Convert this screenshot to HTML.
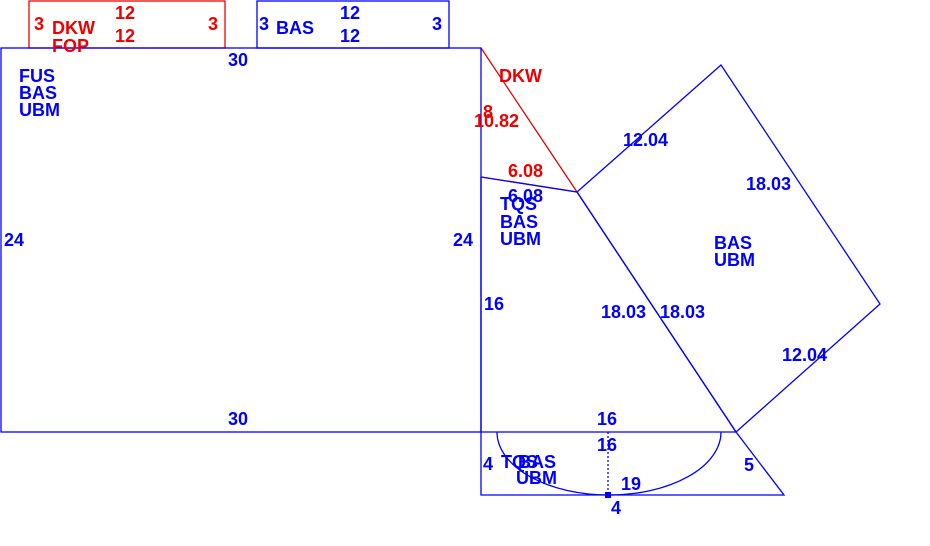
<!DOCTYPE html>
<html><head><style>body{margin:0;background:#fff}svg{display:block}text{font-family:"Liberation Sans",sans-serif;font-weight:bold;font-size:18px}</style></head><body>
<svg width="930" height="546" viewBox="0 0 930 546">
<g fill="none" stroke="#e00" stroke-width="1.3">
<rect x="29" y="1" width="196" height="47"/>
<polyline points="481,48 577,192 481,177"/>
</g>
<g fill="none" stroke="#00f" stroke-width="1.3">
<rect x="1" y="48" width="480" height="384"/>
<rect x="257" y="1" width="192" height="47"/>
<line x1="481" y1="177" x2="577" y2="192"/>
<line x1="481" y1="177" x2="481" y2="432"/>
<polygon points="577,192 721,65 880,304 736,432"/>
<line x1="577" y1="192" x2="736" y2="432"/>
<line x1="481" y1="432" x2="736" y2="432"/>
<polyline points="481,432 481,495 784,495 736,432"/>
<path d="M497,432 A112,63 0 0 0 721,432"/>
<line x1="608" y1="432" x2="608" y2="495" stroke-dasharray="2,2"/>
</g>
<rect x="605" y="492" width="6" height="6" fill="#00f"/>
<g fill="#e00">
<text x="34" y="30">3</text><text x="52" y="34">DKW</text><text x="52" y="52">FOP</text>
<text x="115" y="19">12</text><text x="115" y="42">12</text><text x="208" y="30">3</text>
<text x="499" y="82">DKW</text><text x="483" y="118">8</text><text x="474" y="127">10.82</text>
<text x="508" y="177">6.08</text>
</g>
<g fill="#00f">
<text x="259" y="30">3</text><text x="276" y="34">BAS</text><text x="340" y="19">12</text><text x="340" y="42">12</text><text x="432" y="30">3</text>
<text x="228" y="66">30</text>
<text x="19" y="82">FUS</text><text x="19" y="99">BAS</text><text x="19" y="116">UBM</text>
<text x="4" y="246">24</text><text x="453" y="246">24</text>
<text x="228" y="425">30</text>
<text x="508" y="202">6.08</text>
<text x="500" y="210">TQS</text><text x="500" y="228">BAS</text><text x="500" y="245">UBM</text>
<text x="484" y="310">16</text>
<text x="623" y="146">12.04</text><text x="746" y="190">18.03</text>
<text x="714" y="249">BAS</text><text x="714" y="266">UBM</text>
<text x="601" y="318">18.03</text><text x="660" y="318">18.03</text>
<text x="782" y="361">12.04</text>
<text x="597" y="425">16</text><text x="597" y="451">16</text>
<text x="483" y="470">4</text><text x="501" y="468">TQS</text><text x="518" y="468">BAS</text><text x="516" y="484">UBM</text>
<text x="744" y="471">5</text><text x="621" y="490">19</text><text x="611" y="514">4</text>
</g>
</svg>
</body></html>
